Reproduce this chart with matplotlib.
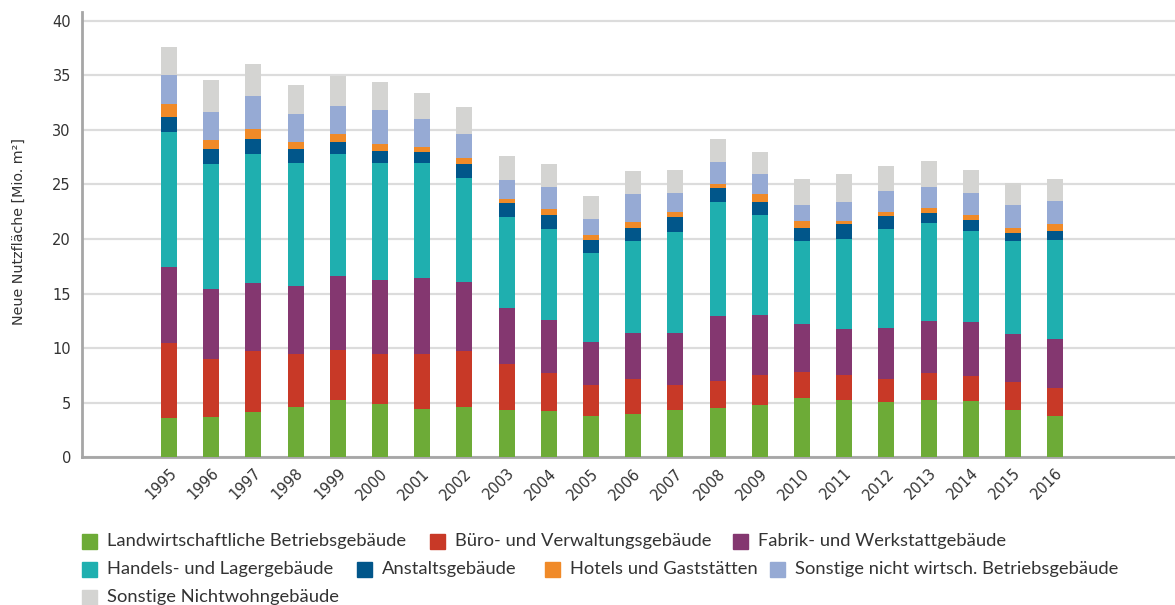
import matplotlib
matplotlib.use("Agg")
import matplotlib.pyplot as plt
from matplotlib.patches import Rectangle
import numpy as np

years = [str(y) for y in range(1995, 2017)]

landwirtschaft = [3.6, 3.67, 4.15, 4.6, 5.25, 4.88, 4.42, 4.6, 4.33, 4.24, 3.78,
                  3.97, 4.33, 4.52, 4.79, 5.4, 5.25, 5.1, 5.25, 5.2, 4.3, 3.78]
buero = [6.83, 5.33, 5.59, 4.86, 4.58, 4.58, 5.04, 5.14, 4.21, 3.48, 2.84,
         3.2, 2.29, 2.47, 2.75, 2.4, 2.25, 2.05, 2.5, 2.25, 2.6, 2.57]
fabrik = [7.0, 6.41, 6.22, 6.23, 6.77, 6.77, 6.96, 6.31, 5.13, 4.85, 3.94,
          4.22, 4.77, 5.95, 5.49, 4.4, 4.22, 4.68, 4.76, 4.94, 4.4, 4.48]
handel = [12.36, 11.45, 11.81, 11.26, 11.17, 10.72, 10.53, 9.53, 8.33, 8.33, 8.15,
          8.42, 9.24, 10.44, 9.16, 7.6, 8.24, 9.05, 8.98, 8.33, 8.51, 9.07]
anstalt = [1.37, 1.37, 1.38, 1.28, 1.10, 1.10, 1.01, 1.28, 1.29, 1.29, 1.19,
           1.19, 1.37, 1.28, 1.19, 1.19, 1.37, 1.2, 0.91, 1.01, 0.73, 0.82]
hotels = [1.19, 0.86, 0.91, 0.64, 0.74, 0.67, 0.46, 0.55, 0.36, 0.55, 0.46,
          0.55, 0.49, 0.40, 0.76, 0.64, 0.36, 0.36, 0.46, 0.46, 0.46, 0.65]
sonst_betrieb = [2.65, 2.53, 3.02, 2.56, 2.57, 3.08, 2.56, 2.2, 1.74, 2.01, 1.46,
                 2.56, 1.71, 1.98, 1.8, 1.47, 1.74, 1.92, 1.92, 2.01, 2.11, 2.1]
sonst_nichtwohn = [2.6, 2.93, 2.92, 2.66, 2.74, 2.57, 2.38, 2.47, 2.2, 2.11, 2.11,
                   2.11, 2.11, 2.11, 2.02, 2.38, 2.57, 2.3, 2.39, 2.11, 2.01, 2.02]

series_names = ["Landwirtschaftliche Betriebsgebäude", "Büro- und Verwaltungsgebäude",
                "Fabrik- und Werkstattgebäude", "Handels- und Lagergebäude",
                "Anstaltsgebäude", "Hotels und Gaststätten",
                "Sonstige nicht wirtsch. Betriebsgebäude", "Sonstige Nichtwohngebäude"]
series = [landwirtschaft, buero, fabrik, handel, anstalt, hotels, sonst_betrieb, sonst_nichtwohn]
colors = ["#6dab37", "#c83927", "#843770", "#1fafaf", "#01568a", "#f08a28", "#96aad4", "#d4d4d2"]

fig = plt.figure(figsize=(11.75, 6.05), dpi=100)
ax = fig.add_axes([82/1175, 1-457.3/605, 1-82/1175, (457.3-12)/605])

x = np.arange(len(years))
bottom = np.zeros(len(years))
for vals, c, name in zip(series, colors, series_names):
    ax.bar(x, vals, width=0.38, bottom=bottom, color=c, label=name, zorder=3, linewidth=0)
    bottom += np.array(vals)

ax.set_xlim(-2.06, 23.84)
ax.set_ylim(0, 40.8)
ax.set_yticks(np.arange(0, 41, 5))
ax.yaxis.grid(True, color="#dcdcdc", linewidth=1.6, zorder=0)
ax.set_axisbelow(True)
for s in ["top", "right"]:
    ax.spines[s].set_visible(False)
ax.spines["left"].set_color("#a6a6a6")
ax.spines["left"].set_linewidth(2)
ax.spines["bottom"].set_color("#a6a6a6")
ax.spines["bottom"].set_linewidth(2)
ax.tick_params(axis="both", length=0, colors="#333333", labelsize=10.5)
ax.tick_params(axis="y", pad=8)
ax.set_xticks(x)
ax.set_xticklabels(years, rotation=45, ha="right", rotation_mode="anchor", fontsize=10.5)
ax.tick_params(axis="x", pad=6)
ax.set_ylabel("Neue Nutzfläche [Mio. m²]", fontsize=10.3, color="#333333")
ax.yaxis.set_label_coords(-56/1093, 0.506)

# legend (flow layout)
rows = [
    [(82, 0), (430, 1), (733, 2)],
    [(82, 3), (357, 4), (545, 5), (770, 6)],
    [(82, 7)],
]
row_y = [541, 569, 597]
for r, items in enumerate(rows):
    for px, idx in items:
        fig.patches.append(Rectangle((px/1175, 1-(row_y[r]+7.5)/605), 15/1175, 15/605,
                                     transform=fig.transFigure, color=colors[idx]))
        fig.text((px+25)/1175, 1-row_y[r]/605, series_names[idx], fontsize=13.2,
                 family="Lato", color="#333333", va="center", ha="left")

fig.savefig("out.png", dpi=100)
